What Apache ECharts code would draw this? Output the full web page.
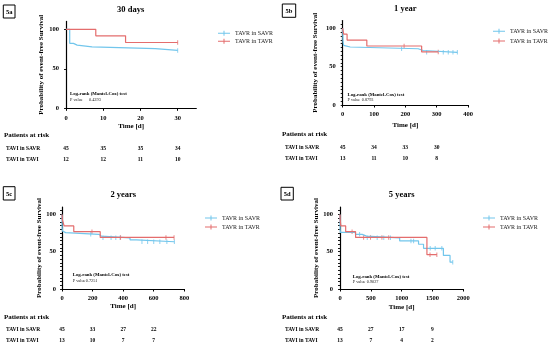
<!DOCTYPE html>
<html><head><meta charset="utf-8">
<script src="https://cdn.jsdelivr.net/npm/echarts@6/dist/echarts.min.js"></script>
<style>html,body{margin:0;padding:0;background:#fff}#c{width:550px;height:346px}</style>
</head><body><div id="c"></div>
<script>
// ---------- DATA ----------
const titles = ['30 days', '1 year', '2 years', '5 years'];
const panelLabels = ['5a', '5b', '5c', '5d'];
const seriesNames = ['TAVR in SAVR', 'TAVR in TAVR'];
const riskRowLabels = ['TAVI in SAVR', 'TAVI in TAVI'];
const riskHeader = 'Patients at risk';
const logRankTitle = 'Log-rank (Mantel-Cox) test';
const pLabel = 'P value';
const yTitle = 'Probability of event-free Survival';
const xTitle = 'Time [d]';
const yTickLabels = [0, 50, 100];

// 5a – 30 days
const aXMax = 35, aXInterval = 10;
const aSavrT = [0, 1, 2, 3, 7, 24, 30];
const aSavrS = [100, 82.2, 80, 77.8, 75.6, 73.3, 73.3];
const aSavrCens = [30];
const aTavrT = [0, 8, 16, 30];
const aTavrS = [100, 91.7, 83.3, 83.3];
const aTavrCens = [30];
const aRiskT = [0, 10, 20, 30];
const aRiskSavr = [45, 35, 35, 34];
const aRiskTavr = [12, 12, 11, 10];
const aP = '0.4393';

// 5b – 1 year
const bXMax = 400, bXInterval = 100;
const bSavrT = [0, 1, 2, 3, 7, 24, 241, 257, 366];
const bSavrS = [100, 82.2, 80, 77.8, 75.6, 73.3, 71.0, 68.7, 68.7];
const bSavrCens = [188, 268, 321, 337, 352, 366];
const bTavrT = [0, 3, 14, 77, 252, 305];
const bTavrS = [100, 92.3, 84.6, 76.9, 69.2, 69.2];
const bTavrCens = [196, 305];
const bRiskT = [0, 100, 200, 300];
const bRiskSavr = [45, 34, 33, 30];
const bRiskTavr = [13, 11, 10, 8];
const bP = '0.8793';

// 5c – 2 years
const cXMax = 800, cXInterval = 200;
const cSavrT = [0, 1, 2, 3, 7, 24, 241, 257, 445, 487, 735];
const cSavrS = [100, 82.2, 80, 77.8, 75.6, 73.3, 71.0, 68.7, 66.0, 63.4, 63.4];
const cSavrCens = [188, 268, 321, 352, 380, 523, 560, 600, 640, 686, 735];
const cTavrT = [0, 3, 14, 77, 250, 733];
const cTavrS = [100, 92.3, 84.6, 76.9, 69.2, 69.2];
const cTavrCens = [196, 383, 680, 733];
const cRiskT = [0, 200, 400, 600];
const cRiskSavr = [45, 33, 27, 22];
const cRiskTavr = [13, 10, 7, 7];
const cP = '0.7251';

// 5d – 5 years
const dXMax = 2000, dXInterval = 500;
const dSavrT = [0, 2, 7, 250, 360, 430, 968, 1274, 1355, 1677, 1785, 1829];
const dSavrS = [100, 80, 76, 73.3, 71, 68.7, 64.5, 60, 54.5, 45, 36, 36];
const dSavrCens = [318, 442, 603, 710, 818, 1151, 1194, 1463, 1544, 1652, 1829];
const dTavrT = [0, 3, 14, 92, 253, 1410, 1571];
const dTavrS = [100, 92.3, 84.6, 76.9, 69.2, 46.1, 46.1];
const dTavrCens = [196, 383, 495, 680, 790, 1460, 1571];
const dRiskT = [0, 500, 1000, 1500];
const dRiskSavr = [45, 27, 17, 9];
const dRiskTavr = [13, 7, 4, 2];
const dP = '0.9027';

const panels = [
  {xMax: aXMax, xInt: aXInterval, sT: aSavrT, sS: aSavrS, sC: aSavrCens, tT: aTavrT, tS: aTavrS, tC: aTavrCens, rT: aRiskT, rS: aRiskSavr, rV: aRiskTavr, p: aP},
  {xMax: bXMax, xInt: bXInterval, sT: bSavrT, sS: bSavrS, sC: bSavrCens, tT: bTavrT, tS: bTavrS, tC: bTavrCens, rT: bRiskT, rS: bRiskSavr, rV: bRiskTavr, p: bP},
  {xMax: cXMax, xInt: cXInterval, sT: cSavrT, sS: cSavrS, sC: cSavrCens, tT: cTavrT, tS: cTavrS, tC: cTavrCens, rT: cRiskT, rS: cRiskSavr, rV: cRiskTavr, p: cP},
  {xMax: dXMax, xInt: dXInterval, sT: dSavrT, sS: dSavrS, sC: dSavrCens, tT: dTavrT, tS: dTavrS, tC: dTavrCens, rT: dRiskT, rS: dRiskSavr, rV: dRiskTavr, p: dP}
];

// ---------- LAYOUT / STYLE ----------
const FONT = '"Liberation Serif","Times New Roman",serif';
const BLUE = '#72c6ec', RED = '#e46d6d';
const layout = [
  {g: [66, 21.4, 130.3, 86.9], xOff: 5, yOff: 4, yInt: 50, xM: 1.5, yM: 3, xNG: 9.2, yNG: 17.3, title: [130.7, 9.3], box: [3.3, 5, 11.7, 13],
   lg: [213, 25.3, 2], risk: [4, 135, 6, 149, 160], lr: [70, 94, 100, 89]},
  {g: [342.7, 20.6, 125.3, 84.4], xOff: 4, yOff: 1, yInt: 5, xM: 1.5, yM: 6, xNG: 12.2, yNG: 23.4, title: [405.3, 8.3], box: [282.3, 4, 13.4, 13.3],
   lg: [488, 23.3, 3.7], risk: [282, 134, 285, 147.7, 158.3], lr: [347.5, 94.3, 100.3, 361.7]},
  {g: [62, 207, 122.3, 82], xOff: 2, yOff: 1, yInt: 5, xM: 4, yM: 5, xNG: 10.5, yNG: 17.7, title: [123.3, 195], box: [3.3, 186.7, 11.7, 13.3],
   lg: [200, 210, 3], risk: [4, 316.7, 6, 329.3, 340.7], lr: [72.7, 275, 280.7, 85.7]},
  {g: [340, 207, 123.3, 82], xOff: 1, yOff: 1, yInt: 5, xM: 5, yM: 6, xNG: 13.8, yNG: 17.7, title: [401.7, 195], box: [281, 187.3, 12.3, 12.7],
   lg: [478, 210, 3], risk: [282, 316.7, 285, 329.3, 340.7], lr: [352.7, 276.7, 281.7, 366.7]}
];

function survAt(t, T, S) { let v = S[0]; for (let i = 0; i < T.length; i++) if (T[i] <= t) v = S[i]; return v; }

const chart = echarts.init(document.getElementById('c'), null, {renderer: 'canvas'});
const axisTxt = {fontFamily: FONT, fontWeight: 'bold', fontSize: 6.5, color: '#000'};
const nameTxt = {fontFamily: FONT, fontWeight: 'bold', fontSize: 7, color: '#000'};
const legendIcon = 'path://M0,9H24V11H0ZM11,5H13V15H11Z';

const option = {
  animation: false,
  backgroundColor: '#fff',
  grid: layout.map(l => ({left: l.g[0], top: l.g[1], width: l.g[2], height: l.g[3], containLabel: false})),
  xAxis: panels.map((p, i) => ({
    gridIndex: i, type: 'value', min: 0, max: p.xMax, interval: p.xInt, offset: layout[i].xOff,
    name: xTitle, nameLocation: 'middle', nameGap: layout[i].xNG, nameTextStyle: nameTxt,
    axisLine: {show: true, lineStyle: {color: '#000', width: 1.2}},
    axisTick: {show: true, length: 2.5, lineStyle: {color: '#000', width: 1}},
    axisLabel: Object.assign({margin: layout[i].xM, showMaxLabel: p.xMax % p.xInt === 0,
      formatter: v => String(v)}, axisTxt),
    splitLine: {show: false}
  })),
  yAxis: panels.map((p, i) => ({
    gridIndex: i, type: 'value', min: 0, max: 110, interval: layout[i].yInt, offset: layout[i].yOff,
    name: yTitle, nameLocation: 'middle', nameGap: layout[i].yNG, nameTextStyle: nameTxt,
    axisLine: {show: true, lineStyle: {color: '#000', width: 1.2}},
    axisTick: {show: true, length: 2, lineStyle: {color: '#000', width: 0.9}},
    axisLabel: Object.assign({margin: layout[i].yM, showMaxLabel: false,
      formatter: v => (yTickLabels.indexOf(v) >= 0 ? String(v) : '')}, axisTxt),
    splitLine: {show: false}
  })),
  legend: layout.map(l => ({
    data: seriesNames, orient: 'vertical', left: l.lg[0], top: l.lg[1], itemGap: l.lg[2],
    itemWidth: 12, itemHeight: 8, icon: legendIcon, selectedMode: false,
    textStyle: {fontFamily: FONT, fontSize: 6, color: '#222'}
  })),
  series: []
};

panels.forEach((p, i) => {
  const groups = [
    {name: seriesNames[0], T: p.sT, S: p.sS, C: p.sC, color: BLUE},
    {name: seriesNames[1], T: p.tT, S: p.tS, C: p.tC, color: RED}
  ];
  groups.forEach(g => {
    option.series.push({
      type: 'line', name: g.name, xAxisIndex: i, yAxisIndex: i, step: 'end', symbol: 'none', silent: true,
      data: g.T.map((t, k) => [t, g.S[k]]),
      lineStyle: {color: g.color, width: 1.2}, itemStyle: {color: g.color}
    });
  });
  groups.forEach(g => {
    option.series.push({
      type: 'scatter', name: g.name, xAxisIndex: i, yAxisIndex: i, silent: true,
      symbol: 'rect', symbolSize: [1, 4.5],
      data: g.C.map(t => [t, survAt(t, g.T, g.S)]),
      itemStyle: {color: g.color}
    });
  });
});

chart.setOption(option);

// ---------- TEXT ANNOTATIONS ----------
const graphics = [];
function txt(x, y, text, font, align, fill) {
  graphics.push({type: 'text', x: x, y: y, silent: true,
    style: {text: text, font: font, fill: fill || '#000', align: align || 'left', verticalAlign: 'middle'}});
}
panels.forEach((p, i) => {
  const L = layout[i];
  txt(L.title[0], L.title[1], titles[i], 'bold 8.5px ' + FONT, 'center');
  graphics.push({type: 'rect', silent: true, shape: {x: L.box[0], y: L.box[1], width: L.box[2], height: L.box[3]},
    style: {fill: 'none', stroke: '#000', lineWidth: 1}});
  txt(L.box[0] + L.box[2] / 2, L.box[1] + L.box[3] / 2 + 0.5, panelLabels[i], 'bold 6.5px ' + FONT, 'center');
  txt(L.risk[0], L.risk[1], riskHeader, 'bold 7px ' + FONT, 'left');
  txt(L.risk[2], L.risk[3], riskRowLabels[0], 'bold 5.5px ' + FONT, 'left');
  txt(L.risk[2], L.risk[4], riskRowLabels[1], 'bold 5.5px ' + FONT, 'left');
  p.rT.forEach((t, k) => {
    const px = chart.convertToPixel({gridIndex: i}, [t, 0]);
    txt(px[0], L.risk[3], String(p.rS[k]), 'bold 5.5px ' + FONT, 'center');
    txt(px[0], L.risk[4], String(p.rV[k]), 'bold 5.5px ' + FONT, 'center');
  });
  txt(L.lr[0], L.lr[1], logRankTitle, 'bold 4.8px ' + FONT, 'left');
  txt(L.lr[0], L.lr[2], pLabel, '4.3px ' + FONT, 'left', '#222');
  txt(L.lr[3], L.lr[2], p.p, '4.3px ' + FONT, 'left', '#222');
});
chart.setOption({graphic: {elements: graphics}});
</script>
</body></html>
